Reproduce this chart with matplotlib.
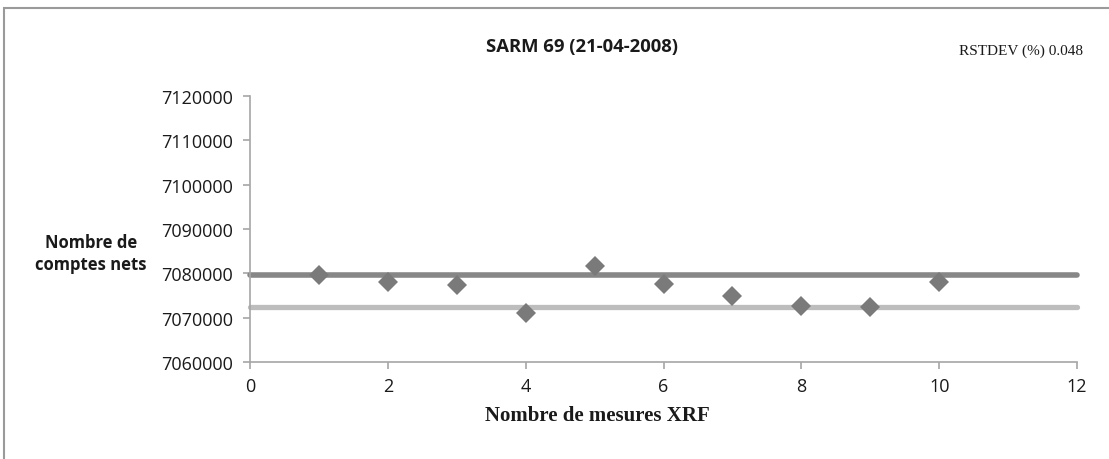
import matplotlib
matplotlib.use("Agg")
import matplotlib.pyplot as plt
from matplotlib.patches import Rectangle

# Data
mesures = [1, 2, 3, 4, 5, 6, 7, 8, 9, 10]
comptes = [7079600, 7077950, 7077350, 7071000, 7081600, 7077550, 7074900, 7072650, 7072350, 7077950]
ligne_haute = 7079600
ligne_basse = 7072500
ligne_x = [0, 12]
x_ticks = [0, 2, 4, 6, 8, 10, 12]
y_ticks = [7060000, 7070000, 7080000, 7090000, 7100000, 7110000, 7120000]

fig = plt.figure(figsize=(11.09, 4.6), dpi=100)
W, H = 1109, 460
ax = fig.add_axes([250 / W, 1 - 363 / H, (1077 - 250) / W, (363 - 97) / H])

ax.plot(ligne_x, [ligne_haute, ligne_haute], color="#878787", lw=4.0,
        solid_capstyle="round", zorder=2, clip_on=False)
ax.plot(ligne_x, [ligne_basse, ligne_basse], color="#bdbdbd", lw=3.8,
        solid_capstyle="round", zorder=2, clip_on=False)
ax.plot(mesures, comptes, linestyle="none", marker="D", ms=10, color="#7a7a7a",
        markeredgewidth=0, zorder=3, clip_on=False)

ax.set_xlim(0, 12)
ax.set_ylim(7060000, 7120000)
ax.set_xticks(x_ticks)
ax.set_yticks(y_ticks)
ax.set_xticklabels([str(v) for v in x_ticks])
ax.set_yticklabels([str(v) for v in y_ticks])

for s in ["top", "right"]:
    ax.spines[s].set_visible(False)
for s in ["left", "bottom"]:
    ax.spines[s].set_color("#a6a6a6")
    ax.spines[s].set_linewidth(1.2)
ax.tick_params(axis="both", colors="#a6a6a6", width=1.2, length=5, direction="out",
               labelcolor="#1a1a1a", labelsize=13)
ax.tick_params(axis="y", pad=7)
ax.tick_params(axis="x", pad=6)
for lab in ax.get_xticklabels() + ax.get_yticklabels():
    lab.set_family("Open Sans")

fig.text(582 / W, 1 - 47 / H, "SARM 69 (21-04-2008)", ha="center", va="center",
         fontsize=13.3, fontweight="bold", family="Open Sans", color="#1a1a1a")
fig.text(1083 / W, 1 - 51 / H, "RSTDEV (%) 0.048", ha="right", va="center",
         fontsize=11, family="Liberation Serif", color="#1a1a1a")
fig.text(91 / W, 1 - 254 / H, "Nombre de\ncomptes nets", ha="center", va="center",
         fontsize=12, fontweight="bold", family="Open Sans", color="#1a1a1a",
         linespacing=1.3)
fig.text(597 / W, 1 - 416 / H, "Nombre de mesures XRF", ha="center", va="center",
         fontsize=15, fontweight="bold", family="Liberation Serif", color="#1a1a1a")

fig.patches.append(Rectangle((4 / W, -0.05), 1.2, 1 - 9 / H + 0.05, transform=fig.transFigure,
                             fill=False, edgecolor="#9a9a9a", lw=1.5))

fig.savefig("out.png", dpi=100)
